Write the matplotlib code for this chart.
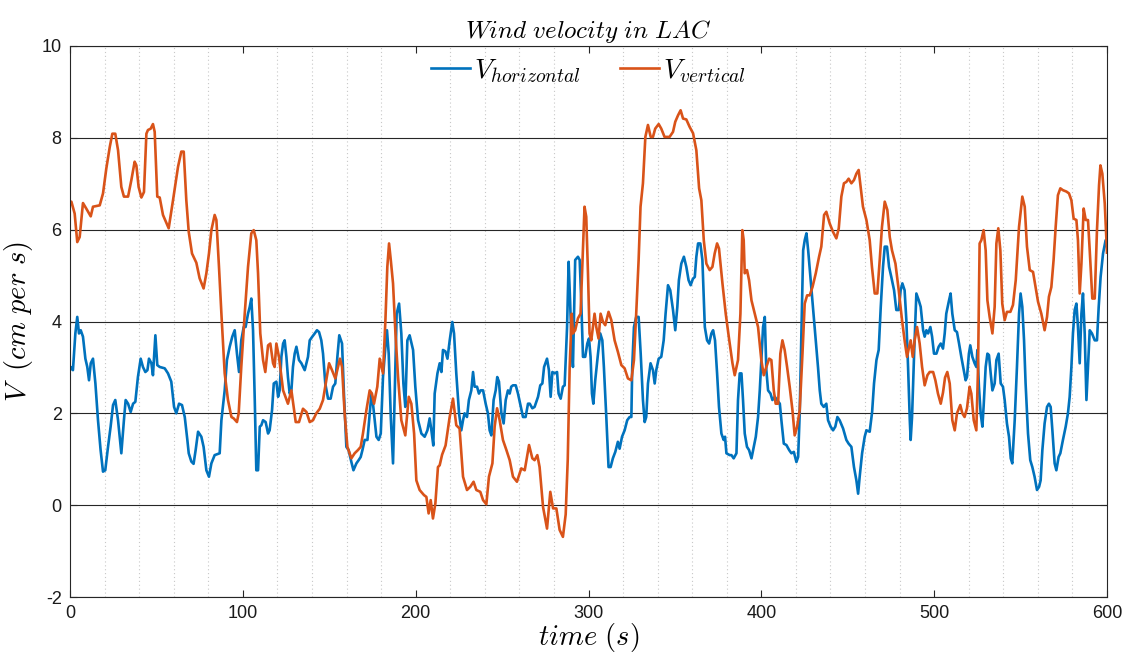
import matplotlib
matplotlib.use("Agg")
import matplotlib.pyplot as plt
from matplotlib.ticker import MultipleLocator

# ---------------- data ----------------
t_vert = [0, 0.8, 2.7, 4.2, 5.6, 7.5, 9.4, 12, 13.3, 17.2, 19.1, 21, 23, 24.5, 26.2, 27.8, 29.7, 31.2, 33.6, 35.5,
          37.4, 38.4, 39.7, 41.3, 42.8, 44.2, 45.1, 46.7, 48, 49, 50.5, 51.9, 53.8, 57.1, 59.6, 62.5, 64.4, 65.8, 67.3, 68.7,
          70.6, 73.1, 75, 77.3, 78.9, 80.4, 81.8, 83.7, 84.7, 86.2, 87.6, 89.5, 91.4, 93.4, 94.7, 96.6, 97.6, 99.1, 101.1, 103,
          104.9, 106.3, 107.8, 108.8, 110.1, 111.7, 113, 114.6, 115.9, 117.5, 118.4, 119.4, 120.9, 123.3, 126.1, 128.1, 130.6, 132.5, 134.8, 136.8,
          138.7, 140.6, 142.5, 144.5, 146.4, 148.3, 149.9, 151.6, 153.5, 155.1, 156.2, 157.4, 158.9, 160.5, 162.8, 164.7, 166.6, 168.2, 169.5, 171.5,
          173.4, 174.7, 175.9, 177.8, 179.2, 181.1, 182.5, 183.6, 184.6, 185.6, 186.9, 188.3, 189.8, 191.7, 194, 196, 197.5, 199.1, 200.4, 202.3,
          204.8, 206.2, 207.5, 208.7, 210, 211.4, 212.9, 213.9, 215.3, 217.3, 218.7, 219.6, 221.6, 223.5, 225.4, 227.4, 229.7, 231.6, 233.5, 235.1,
          237.4, 239, 240.9, 242.4, 244.4, 245.7, 247.1, 248.6, 250.5, 252.5, 254.4, 256.3, 258.6, 261.1, 263.1, 265.6, 267.5, 268.8, 270.4, 271.7,
          273.7, 276, 277.9, 279.5, 281.4, 283.3, 285.2, 286.8, 288, 289.1, 290.3, 291, 292.3, 293.9, 295.4, 296.8, 297.7, 298.7, 299.7, 300.6,
          301.6, 303.5, 304.5, 305.8, 307, 308.4, 309.7, 311.6, 313.2, 315.1, 317, 319, 320.9, 322.8, 324.8, 326.3, 327.6, 329, 330.1, 331.5,
          332.9, 334.4, 336, 337.3, 338.6, 340.6, 342.1, 344, 346.9, 348.9, 350.2, 351.8, 353.3, 354.7, 356.6, 358.5, 360.5, 362.4, 364, 365.3,
          366.7, 368.2, 370.1, 371.7, 373, 374.4, 375.5, 377.5, 379.4, 381.3, 383.3, 384.6, 386.5, 387.9, 389, 389.8, 390.4, 391.7, 392.9, 394.3,
          396.2, 398.1, 400, 401.4, 402.9, 404.5, 405.8, 407.2, 408.3, 409.7, 411, 412.2, 413.5, 414.9, 416.4, 418, 419.3, 420.7, 422.2, 423.8,
          425.1, 426.5, 428, 429.6, 431.5, 433.4, 434.7, 436.3, 437.6, 439.6, 441.5, 443.4, 444.8, 446.3, 447.8, 449.2, 450.5, 452.1, 453.6, 455,
          456.3, 457.9, 458.8, 460.8, 462.7, 464, 465.6, 467.1, 468.5, 469.8, 471.4, 472.9, 474.3, 475.6, 477.6, 479.5, 481.4, 483, 484.3, 485.3,
          486.4, 487.6, 488.7, 490.1, 491.6, 493, 494.5, 496.1, 497.4, 499.4, 500.7, 502.2, 503.8, 505.1, 506.3, 507.6, 509, 510.5, 511.9, 513.2,
          515.1, 516.3, 517.6, 519, 520.5, 521.5, 522.9, 524.4, 525.4, 526.3, 527.3, 528.6, 529.8, 530.8, 532.1, 533.7, 535, 536, 537.1, 538.3,
          539.4, 540.8, 542.1, 544.1, 545.6, 547.2, 549.1, 551, 552.4, 553.7, 555.3, 557.2, 558.7, 560.1, 562, 563.9, 565.3, 566.4, 567.8, 569.1,
          570.3, 571.6, 573, 574.5, 576.5, 578, 579.4, 580.7, 582.3, 583.2, 584.2, 585.2, 586.5, 587.7, 589, 590, 591.5, 592.9, 594.2, 595.4,
          596.2, 597.3, 598.7, 600]
v_vert = [6.6, 6.61, 6.35, 5.73, 5.84, 6.58, 6.46, 6.29, 6.5, 6.53, 6.79, 7.33, 7.8, 8.09, 8.09, 7.73, 6.93, 6.72, 6.72, 7.08,
          7.48, 7.4, 6.93, 6.7, 6.82, 8.09, 8.17, 8.2, 8.3, 8.13, 6.72, 6.7, 6.32, 6.03, 6.64, 7.37, 7.7, 7.7, 6.64, 5.95,
          5.48, 5.28, 4.94, 4.72, 5.05, 5.48, 5.99, 6.32, 6.21, 5.19, 4.17, 2.87, 2.29, 1.92, 1.89, 1.81, 2.0, 3.01, 4.17, 5.19,
          5.92, 5.99, 5.77, 5.05, 3.74, 3.16, 2.9, 3.48, 3.52, 3.09, 3.01, 3.52, 3.23, 2.5, 2.21, 2.5, 1.81, 1.81, 2.1, 2.03,
          1.81, 1.85, 2.0, 2.1, 2.29, 2.72, 3.09, 2.94, 2.76, 3.01, 3.19, 3.01, 2.0, 1.27, 1.02, 1.13, 1.2, 1.27, 1.56, 2.07,
          2.5, 2.43, 2.21, 2.58, 3.19, 2.87, 4.03, 5.19, 5.7, 5.34, 4.83, 3.74, 2.8, 1.85, 1.52, 2.36, 2.21, 1.56, 0.54, 0.33,
          0.22, 0.18, -0.18, 0.11, -0.29, 0.04, 0.83, 0.87, 1.1, 1.3, 1.67, 1.9, 2.32, 1.74, 1.67, 0.62, 0.33, 0.4, 0.51, 0.33,
          0.29, 0.11, 0.02, 0.62, 0.91, 1.71, 2.11, 1.85, 1.42, 1.2, 0.98, 0.62, 0.51, 0.8, 0.76, 1.31, 1.02, 0.98, 1.09, 0.83,
          -0.04, -0.51, 0.29, -0.07, -0.07, -0.54, -0.69, -0.2, 1.0, 3.01, 4.17, 3.74, 3.81, 4.07, 4.17, 5.55, 6.5, 6.28, 5.05, 3.74,
          3.59, 4.17, 3.88, 3.63, 4.17, 3.99, 3.92, 4.21, 4.03, 3.59, 3.34, 3.05, 2.98, 2.76, 2.72, 3.16, 4.17, 5.34, 6.5, 7.01,
          8.02, 8.28, 8.02, 8.02, 8.2, 8.3, 8.2, 8.02, 8.02, 8.13, 8.35, 8.49, 8.6, 8.42, 8.4, 8.24, 8.1, 7.73, 6.9, 6.64,
          5.77, 5.26, 5.12, 5.19, 5.48, 5.7, 5.59, 4.83, 4.17, 3.63, 3.09, 2.83, 3.16, 4.17, 5.99, 5.77, 5.05, 5.12, 4.9, 4.46,
          4.17, 3.88, 3.16, 2.83, 3.01, 3.19, 3.16, 2.5, 2.21, 2.21, 3.3, 3.59, 3.38, 3.01, 2.58, 2.07, 1.52, 1.71, 2.07, 3.3,
          4.39, 4.57, 4.57, 4.75, 5.05, 5.41, 5.63, 6.32, 6.39, 6.13, 5.95, 5.81, 6.03, 6.72, 7.01, 7.04, 7.11, 7.01, 7.08, 7.22,
          7.3, 6.79, 6.5, 6.21, 5.77, 5.19, 4.61, 4.61, 5.34, 6.06, 6.61, 6.43, 5.84, 5.55, 5.26, 4.68, 4.03, 3.56, 3.23, 3.41,
          3.59, 3.23, 3.59, 3.88, 3.52, 3.01, 2.61, 2.83, 2.9, 2.9, 2.72, 2.43, 2.21, 2.45, 2.78, 2.9, 2.65, 1.85, 1.63, 2.0,
          2.18, 2.0, 1.92, 2.11, 2.58, 2.43, 1.85, 1.63, 3.01, 5.7, 5.77, 5.99, 5.55, 4.46, 4.1, 3.74, 4.32, 5.7, 6.03, 5.55,
          4.39, 4.03, 4.21, 4.21, 4.36, 4.9, 6.06, 6.72, 6.5, 5.63, 5.12, 5.08, 4.75, 4.43, 4.17, 3.81, 4.1, 4.54, 4.75, 5.34,
          6.06, 6.75, 6.9, 6.86, 6.83, 6.79, 6.64, 6.24, 6.21, 5.77, 4.61, 5.26, 6.46, 6.21, 6.21, 5.55, 4.5, 4.5, 5.99, 6.97,
          7.4, 7.22, 6.57, 5.5]

t_horiz = [0, 0.4, 1.7, 3.1, 4.2, 5.2, 6.2, 7.5, 8.9, 10, 11, 12, 13.3, 14.7, 16.2, 17.7, 19.1, 20.4, 22, 23.5,
           24.9, 26.2, 27.8, 29.7, 31.2, 32.2, 33.6, 35.1, 36.5, 37.8, 39.3, 40.9, 42.2, 43.6, 44.8, 45.7, 47.1, 48, 49.4, 50.5,
           51.9, 54.8, 56.7, 58.6, 60.2, 61.5, 63.1, 64.8, 66.4, 67.9, 68.7, 70.2, 71.5, 72.7, 74.1, 76, 77.3, 78.9, 80.4, 81.8,
           83.7, 86.6, 87.6, 89.5, 90.8, 92.4, 93.9, 95.3, 96.6, 97.8, 99.1, 100.5, 101.6, 103, 104, 104.9, 105.9, 106.9, 107.8, 108.8,
           109.8, 110.7, 111.7, 113.2, 114.6, 115.5, 116.9, 117.9, 119.4, 120.4, 121.3, 122.3, 123.3, 124.2, 125.2, 126.1, 127.1, 128.1, 129, 130,
           131, 132.5, 133.9, 135.8, 137.7, 138.7, 140.2, 141.6, 142.9, 144.1, 145.4, 146.4, 147.7, 149.3, 150.8, 152.2, 153.5, 154.7, 155.8, 157.4,
           158.5, 159.9, 161.2, 162.8, 164, 165.7, 167, 168.2, 169.2, 170.5, 172.1, 173.4, 174.4, 175.3, 176.3, 177.3, 178.6, 179.8, 181.1, 182.5,
           183.4, 184.4, 185.6, 186.9, 187.9, 189, 190.4, 191.7, 192.9, 194, 195.2, 196.5, 198.5, 199.8, 201.4, 203.3, 205.2, 206.8, 208.1, 209.1,
           210.2, 211, 212.6, 213.9, 214.9, 215.8, 217.2, 218.4, 219.7, 221.2, 222.2, 223.5, 225.1, 226.4, 227.4, 228.3, 229.7, 230.8, 232.2, 233.2,
           234.1, 235.5, 236.6, 237.6, 239, 240.5, 241.8, 242.8, 243.8, 245.1, 246.3, 247.2, 248.2, 249.6, 250.9, 252.1, 253.4, 254.4, 255.3, 256.3,
           257.9, 259.2, 260.6, 262.1, 263.6, 265, 266, 267.5, 268.8, 270.8, 272.1, 273.3, 274.3, 276, 277.1, 278.1, 279.1, 280.4, 281.8, 282.7,
           283.9, 285.2, 286.2, 287.6, 288.5, 289.3, 290.2, 291, 292.3, 293.9, 294.9, 295.8, 296.8, 298.1, 299.3, 300.3, 301.2, 302, 302.8, 303.9,
           305.5, 306.8, 308, 308.9, 310.3, 311.6, 312.8, 314.1, 315.5, 317, 318, 319.4, 320.9, 322.4, 323.8, 324.8, 325.3, 326.3, 327.6, 329,
           330.2, 331.5, 332.5, 333.4, 334.4, 335.9, 337.3, 338.3, 339.2, 340.6, 342.1, 343.5, 344.6, 346, 347.3, 348.9, 350.2, 351.4, 352.3, 353.7,
           355.2, 356.6, 357.9, 359.1, 360.4, 361.5, 362.4, 363.4, 364.7, 365.9, 367.3, 368.6, 369.8, 371.1, 372.1, 373.2, 374.4, 375.5, 376.9, 378.2,
           379, 379.8, 381.7, 382.7, 384, 385.6, 386.5, 387.5, 388.5, 389.4, 390.4, 391.7, 392.9, 394.3, 395.6, 396.8, 398.1, 399.1, 400, 401,
           402, 402.9, 403.9, 405.3, 406.4, 407.8, 409.1, 410.7, 411.6, 413, 414.5, 416.1, 417.4, 418.8, 420.3, 421.3, 422.2, 423.2, 424.2, 425.1,
           426.1, 427.1, 428.4, 430, 431.5, 432.8, 433.8, 434.7, 436.1, 437.6, 438.6, 440.1, 441.5, 442.8, 444, 445.3, 447.3, 449.2, 450.5, 452.1,
           453.6, 455, 456, 456.9, 458.3, 459.8, 460.8, 462.7, 464.1, 465.2, 466.6, 467.9, 469.1, 470.4, 471.4, 472.7, 473.9, 475.2, 476.8, 478.1,
           479.5, 480.6, 481.6, 482.9, 483.9, 484.9, 485.9, 486.4, 487.2, 488.4, 489.7, 491.1, 492.2, 493.6, 494.5, 495.5, 496.5, 497.8, 498.8, 499.9,
           501.3, 502.6, 503.8, 505.1, 506.1, 507, 508.6, 509.5, 510.5, 511.9, 513.2, 514.4, 515.7, 517.1, 518.2, 519, 520.1, 520.9, 522.1, 523.4,
           524.4, 525, 525.9, 526.9, 527.9, 528.6, 529.8, 530.8, 531.7, 532.7, 533.7, 535, 536, 537.3, 538.5, 539.8, 540.8, 542.1, 543.3, 544.3,
           545.2, 546.6, 547.9, 549.1, 550, 551, 552, 552.9, 554.3, 555.6, 556.8, 558.1, 559.5, 560.7, 561.6, 562.6, 563.9, 565.3, 566.4, 567.4,
           568.4, 569.7, 570.7, 572, 573, 574.5, 576.1, 577.4, 578.4, 579.4, 580.3, 581.3, 582.3, 583.2, 584.2, 585.2, 586.1, 587.1, 588.1, 589,
           590, 591.3, 592.9, 594.2, 595.2, 596.3, 597.7, 599.2, 600]
v_horiz = [2.95, 3.01, 2.94, 3.74, 4.1, 3.74, 3.81, 3.67, 3.19, 3.01, 2.72, 3.09, 3.19, 2.65, 1.85, 1.2, 0.73, 0.76, 1.27, 1.71,
           2.18, 2.29, 1.85, 1.13, 1.85, 2.29, 2.21, 2.03, 2.21, 2.25, 2.79, 3.19, 3.01, 2.9, 2.94, 3.19, 3.09, 2.83, 3.7, 3.05,
           3.01, 2.98, 2.87, 2.69, 2.14, 2.0, 2.21, 2.18, 1.92, 1.42, 1.13, 0.95, 0.9, 1.2, 1.6, 1.49, 1.27, 0.76, 0.62, 0.91,
           1.09, 1.13, 1.85, 2.5, 3.16, 3.45, 3.67, 3.81, 3.3, 2.9, 3.59, 3.88, 3.88, 4.17, 4.32, 4.5, 3.81, 2.29, 0.76, 0.76,
           1.71, 1.74, 1.85, 1.81, 1.56, 1.63, 2.07, 2.65, 2.69, 2.36, 2.5, 3.23, 3.52, 3.59, 3.23, 2.79, 2.43, 2.5, 3.01, 3.3,
           3.45, 3.16, 3.09, 2.94, 3.23, 3.59, 3.67, 3.74, 3.81, 3.77, 3.59, 3.3, 2.65, 2.32, 2.32, 2.58, 2.65, 3.23, 3.7, 3.52,
           2.43, 1.27, 1.2, 0.94, 0.76, 0.91, 0.98, 1.05, 1.2, 1.42, 1.42, 2.0, 2.43, 2.21, 1.85, 1.49, 1.42, 1.56, 2.79, 3.45,
           3.81, 3.3, 1.92, 0.91, 2.43, 4.17, 4.39, 3.74, 2.65, 2.14, 3.59, 3.7, 3.38, 2.58, 1.85, 1.56, 1.49, 1.63, 1.89, 1.63,
           1.3, 2.43, 2.87, 3.09, 2.9, 3.38, 3.35, 3.19, 3.59, 3.99, 3.74, 2.87, 2.0, 1.63, 1.85, 2.0, 1.92, 2.29, 2.5, 2.9,
           2.58, 2.58, 2.43, 2.5, 2.5, 2.21, 2.0, 1.63, 1.52, 2.29, 2.5, 2.79, 2.69, 2.0, 1.78, 2.29, 2.5, 2.43, 2.58, 2.61,
           2.61, 2.43, 2.18, 1.92, 1.92, 2.21, 2.21, 2.11, 2.14, 2.36, 2.61, 2.65, 3.01, 3.19, 2.94, 2.36, 2.9, 2.87, 2.9, 2.43,
           2.32, 2.58, 2.61, 3.88, 5.3, 4.5, 3.5, 3.01, 5.34, 5.41, 5.34, 4.46, 3.23, 3.23, 3.52, 3.63, 3.23, 2.43, 2.21, 2.72,
           3.3, 3.74, 3.59, 3.01, 1.92, 0.83, 0.83, 1.02, 1.16, 1.38, 1.23, 1.49, 1.63, 1.85, 1.92, 1.92, 3.01, 3.88, 4.1, 4.1,
           3.3, 2.29, 1.81, 1.92, 2.65, 3.09, 2.94, 2.65, 2.94, 3.19, 3.23, 3.59, 4.17, 4.79, 4.68, 4.25, 3.81, 4.32, 4.9, 5.26,
           5.41, 5.19, 4.9, 4.79, 4.93, 4.97, 5.41, 5.7, 5.7, 5.34, 3.88, 3.59, 3.52, 3.74, 3.81, 3.59, 2.87, 2.14, 1.56, 1.42,
           1.49, 1.13, 1.09, 1.09, 1.02, 1.13, 2.29, 2.87, 2.87, 2.29, 1.56, 1.27, 1.2, 1.02, 1.27, 1.49, 1.92, 2.5, 3.16, 3.88,
           4.1, 2.94, 2.5, 2.43, 2.29, 2.36, 2.29, 2.21, 1.85, 1.34, 1.31, 1.2, 1.13, 1.16, 0.94, 1.05, 2.0, 3.74, 5.55, 5.77,
           5.92, 5.55, 4.97, 4.25, 3.59, 3.0, 2.5, 2.21, 2.14, 2.21, 1.85, 1.71, 1.63, 1.71, 1.92, 1.85, 1.67, 1.42, 1.34, 1.27,
           0.83, 0.54, 0.25, 0.62, 1.13, 1.49, 1.63, 1.6, 2.03, 2.65, 3.16, 3.38, 4.32, 5.19, 5.63, 5.63, 5.19, 4.97, 4.68, 4.25,
           4.25, 4.68, 4.83, 4.68, 4.03, 3.01, 1.85, 1.42, 1.92, 3.3, 4.61, 4.46, 4.32, 3.81, 3.67, 3.81, 3.74, 3.88, 3.67, 3.3,
           3.3, 3.45, 3.52, 3.41, 3.74, 4.17, 4.46, 4.61, 4.17, 3.81, 3.77, 3.52, 3.23, 2.94, 2.72, 2.79, 3.3, 3.48, 3.23, 3.09,
           3.01, 3.38, 2.58, 2.0, 1.71, 2.14, 3.01, 3.3, 3.27, 2.87, 2.5, 2.65, 3.16, 3.3, 2.65, 2.58, 2.29, 1.78, 1.49, 1.02,
           0.91, 1.85, 3.01, 4.17, 4.61, 4.32, 3.59, 2.65, 1.56, 0.98, 0.83, 0.62, 0.33, 0.4, 0.54, 1.2, 1.78, 2.14, 2.21, 2.14,
           1.63, 0.91, 0.76, 1.05, 1.13, 1.42, 1.71, 2.0, 2.36, 3.01, 3.74, 4.25, 4.39, 3.88, 3.09, 4.17, 4.61, 3.74, 2.29, 3.01,
           3.81, 3.74, 3.59, 3.59, 4.32, 4.97, 5.48, 5.77, 5.63]

x_ticks = [0, 100, 200, 300, 400, 500, 600]
y_ticks = [-2, 0, 2, 4, 6, 8, 10]

# ---------------- figure ----------------
plt.rcParams['mathtext.fontset'] = 'cm'
plt.rcParams['axes.unicode_minus'] = False
plt.rcParams['font.family'] = ['Liberation Sans', 'DejaVu Sans']

fig = plt.figure(figsize=(11.23, 6.54), dpi=100)
ax = fig.add_axes([70 / 1123, 1 - 597 / 654, (1107 - 70) / 1123, (597 - 46) / 654])

blue = '#0072BD'
orange = '#D95319'
ax.plot(t_horiz, v_horiz, color=blue, lw=1.9, label=r'$V_{horizontal}$')
ax.plot(t_vert, v_vert, color=orange, lw=1.9, label=r'$V_{vertical}$')

ax.set_xlim(0, 600)
ax.set_ylim(-2, 10)
ax.set_xticks(x_ticks)
ax.set_yticks(y_ticks)
ax.xaxis.set_minor_locator(MultipleLocator(20))
ax.tick_params(which='major', direction='in', length=5, width=0.8, top=True, right=True,
               labelsize=13, colors='#262626', labelcolor='#1a1a1a', pad=6)
ax.tick_params(which='minor', length=0)
ax.grid(True, which='major', axis='y', color='#262626', lw=0.8, ls='-')
ax.grid(True, which='minor', axis='x', color='#c8c8c8', lw=0.8, ls=(0, (1, 2.5)))
ax.set_axisbelow(True)
for s in ax.spines.values():
    s.set_color('#262626')
    s.set_linewidth(0.8)

ax.set_title(r'$Wind\ velocity\ in\ LAC$', fontsize=18, pad=6)
ax.set_xlabel(r'$time\ (s)$', fontsize=20.5, labelpad=-1)
ax.set_ylabel(r'$V\;\ (cm\ per\ s)$', fontsize=20.5, labelpad=5)

leg = ax.legend(loc='upper center', ncol=2, frameon=False, fontsize=20,
                handlelength=1.4, handletextpad=0.15, columnspacing=1.4,
                borderaxespad=0.0)

fig.savefig('out.png', dpi=100)
